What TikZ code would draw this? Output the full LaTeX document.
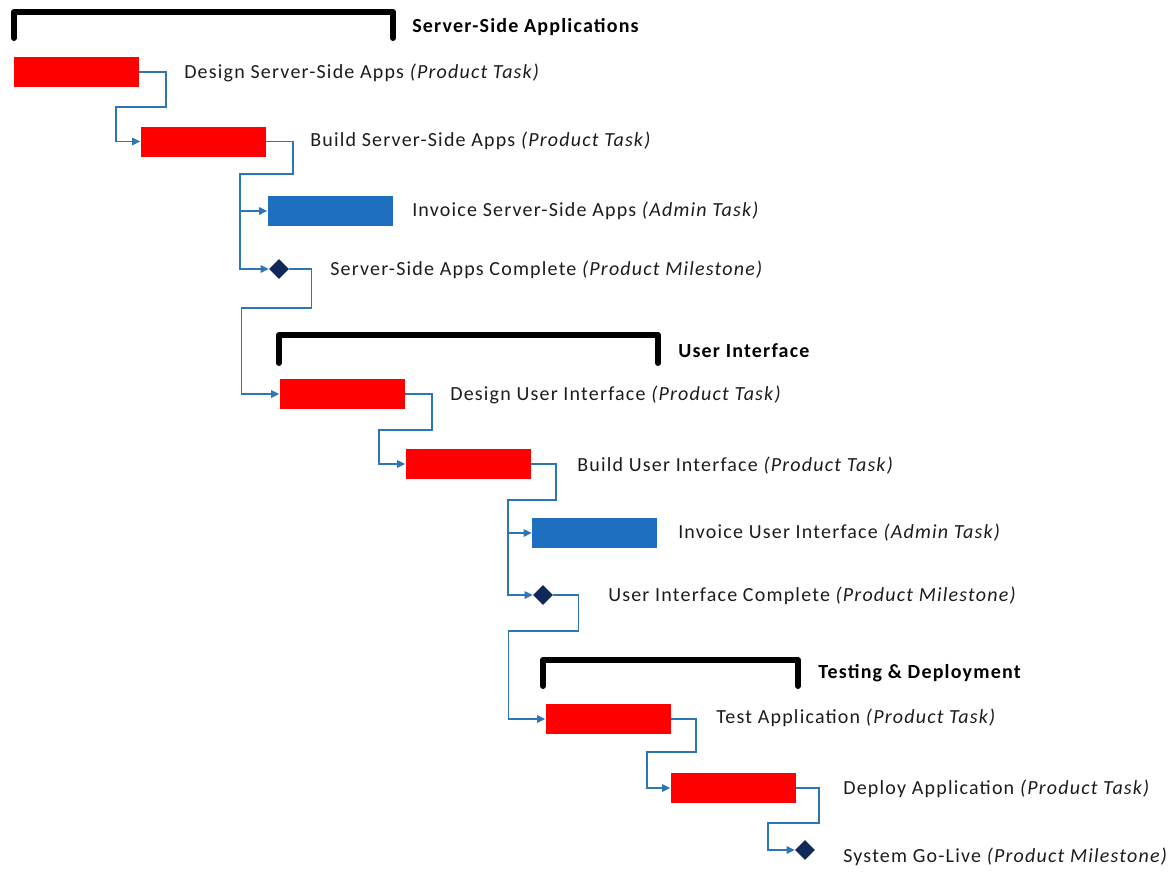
\documentclass[tikz,border=0pt]{standalone}
\usepackage{fontspec}
\setmainfont{Carlito}[LetterSpace=6]
\usetikzlibrary{arrows.meta,shapes.geometric}
\definecolor{barred}{HTML}{FF0000}
\definecolor{barblue}{HTML}{1F6FC0}
\definecolor{connblue}{HTML}{2E75B6}
\definecolor{navy}{HTML}{10285A}
\definecolor{txt}{HTML}{1C1C1C}
\tikzset{
  bar/.style={rectangle, minimum width=93.75pt, minimum height=22.5pt, inner sep=0pt, draw=none},
  redbar/.style={bar, fill=barred},
  bluebar/.style={bar, fill=barblue},
  milestone/.style={diamond, fill=navy, minimum size=15pt, inner sep=0pt},
  conn/.style={draw=connblue, line width=1.1pt, -{Triangle[length=6pt,width=5.5pt]}},
  bracket/.style={line width=4.5pt, line cap=round, line join=round, black},
  lbl/.style={anchor=west, text=txt, font=\fontsize{15}{18}\selectfont, inner sep=0pt},
  grp/.style={anchor=west, text=black, font=\fontsize{15}{18}\selectfont\bfseries, inner sep=0pt}
}
\begin{document}
\begin{tikzpicture}[x=0.75pt,y=-0.75pt]
\useasboundingbox (0,0) rectangle (1176,871);
% brackets
\draw[bracket] (14,38) -- (14,12) -- (393,12) -- (393,38);
\draw[bracket] (279,363) -- (279,335) -- (658,335) -- (658,363);
\draw[bracket] (543,686) -- (543,660) -- (798,660) -- (798,686);
\node[grp] (g1) at (412,27) {Server-Side Applications};
\node[grp] (g2) at (678,351) {User Interface};
\node[grp] (g3) at (818,673) {Testing \& Deployment};
% bars
\node[redbar] (b1) at (76,72) {};
\node[redbar] (b2) at (203,141.5) {};
\node[bluebar] (b3) at (330,211) {};
\node[milestone] (m1) at (279,269) {};
\node[redbar] (b4) at (342,394) {};
\node[redbar] (b5) at (468,464) {};
\node[bluebar] (b6) at (594.5,533) {};
\node[milestone] (m2) at (543,595) {};
\node[redbar] (b7) at (608,719) {};
\node[redbar] (b8) at (733,788) {};
\node[milestone] (m3) at (805,850) {};
% labels
\node[lbl] (t1) at (184,73) {Design Server-Side Apps \textit{(Product Task)}};
\node[lbl] (t2) at (310,141) {Build Server-Side Apps \textit{(Product Task)}};
\node[lbl] (t3) at (412,211) {Invoice Server-Side Apps \textit{(Admin Task)}};
\node[lbl] (t4) at (330,270) {Server-Side Apps Complete \textit{(Product Milestone)}};
\node[lbl] (t5) at (450,395) {Design User Interface \textit{(Product Task)}};
\node[lbl] (t6) at (577,466) {Build User Interface \textit{(Product Task)}};
\node[lbl] (t7) at (678,533) {Invoice User Interface \textit{(Admin Task)}};
\node[lbl] (t8) at (608,596) {User Interface Complete \textit{(Product Milestone)}};
\node[lbl] (t9) at (716,718) {Test Application \textit{(Product Task)}};
\node[lbl] (t10) at (843,789) {Deploy Application \textit{(Product Task)}};
\node[lbl] (t11) at (843,857) {System Go-Live \textit{(Product Milestone)}};
% connectors
\draw[conn] (b1.east) -- ++(27,0) -- ++(0,35) -- ++(-50,0) |- (b2.west);
\draw[conn] (b2.east) -- ++(27,0) -- ++(0,32.5) -- ++(-53,0) |- (b3.west);
\draw[conn] (b2.east) -- ++(27,0) -- ++(0,32.5) -- ++(-53,0) |- (m1.west);
\draw[conn] (m1.east) -- ++(22,0) -- ++(0,39) -- ++(-70,0) |- (b4.west);
\draw[conn] (b4.east) -- ++(27,0) -- ++(0,36) -- ++(-53,0) |- (b5.west);
\draw[conn] (b5.east) -- ++(25,0) -- ++(0,36) -- ++(-48,0) |- (b6.west);
\draw[conn] (b5.east) -- ++(25,0) -- ++(0,36) -- ++(-48,0) |- (m2.west);
\draw[conn] (m2.east) -- ++(25,0) -- ++(0,36) -- ++(-70,0) |- (b7.west);
\draw[conn] (b7.east) -- ++(25,0) -- ++(0,33) -- ++(-49,0) |- (b8.west);
\draw[conn] (b8.east) -- ++(23,0) -- ++(0,35) -- ++(-51,0) |- (m3.west);
\end{tikzpicture}
\end{document}
